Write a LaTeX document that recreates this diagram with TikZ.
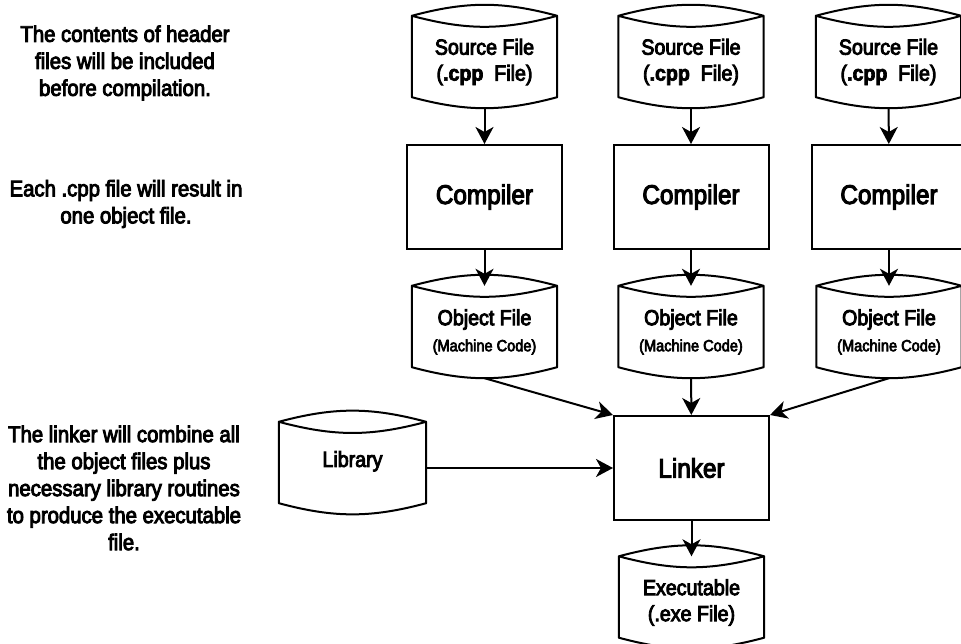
\documentclass[tikz,border=0pt]{standalone}
\usepackage{fontspec}
\setmainfont{Liberation Sans}[FakeStretch=0.9, FakeBold=4, BoldFont={Liberation Sans Bold}, BoldFeatures={FakeStretch=0.9, FakeBold=3}]
\usetikzlibrary{positioning,arrows.meta}

\begin{document}
\begin{tikzpicture}[x=1pt,y=-1pt,
  store/.style={minimum width=145pt, minimum height=92pt, inner sep=0pt, align=center,
    font=\fontsize{21.8}{26}\selectfont,
    append after command={\pgfextra{\let\drumnode\tikzlastnode
      \draw[line width=2pt, line join=round]
        (\drumnode.north west) to[bend left=15] (\drumnode.north east)
        to[bend left=15] (\drumnode.north west)
        -- ([yshift=11pt]\drumnode.south west) to[bend right=15] ([yshift=11pt]\drumnode.south east)
        -- (\drumnode.north east);}}},
  proc/.style={draw, line width=2pt, minimum width=155pt, minimum height=104pt, inner sep=0pt,
    font=\fontsize{27}{30}\selectfont},
  note/.style={align=center, inner sep=0pt, font=\fontsize{22.6}{27}\selectfont},
  arr/.style={line width=2pt, -{Stealth[length=17pt,width=18pt,inset=5pt]}}]
\useasboundingbox (0,0) rectangle (961,644);

% notes on the left
\node[note] (hdr) at (125,63) {The contents of header\\files will be included\\before compilation.};
\node[note] (obj) at (126,204) {Each .cpp file will result in\\one object file.};
\node[note] (lnk) at (124,488) {The linker will combine all\\the object files plus\\necessary library routines\\to produce the executable\\file.};

% source files
\node[store] (src1) at (484.5,62) {Source File\\(\textbf{.cpp}\ \ File)};
\node[store] (src2) at (691,62) {Source File\\(\textbf{.cpp}\ \ File)};
\node[store] (src3) at (888.5,62) {Source File\\(\textbf{.cpp}\ \ File)};

% compilers
\node[proc] (comp1) at (484.5,197) {Compiler};
\node[proc] (comp2) at (691,197) {Compiler};
\node[proc] (comp3) at (889,197) {Compiler};

% object files
\node[store] (obj1) at (484.5,332) {Object File\\{\fontsize{16.2}{22}\selectfont(Machine Code)}};
\node[store] (obj2) at (691,332) {Object File\\{\fontsize{16.2}{22}\selectfont(Machine Code)}};
\node[store] (obj3) at (889,332) {Object File\\{\fontsize{16.2}{22}\selectfont(Machine Code)}};

% linking
\node[proc] (link) at (691.5,468) {Linker};
\node[store, minimum width=147pt, text depth=18pt] (lib) at (352.5,468) {Library};
\node[store] (exe) at (691.5,602.5) {Executable\\(.exe File)};

\draw[arr] (src1) -- (comp1);
\draw[arr] (src2) -- (comp2);
\draw[arr] (src3) -- (comp3);
\draw[arr] (comp1) -- (obj1);
\draw[arr] (comp2) -- (obj2);
\draw[arr] (comp3) -- (obj3);
\draw[arr] (obj1.south) -- (link.north west);
\draw[arr] (obj2) -- (link);
\draw[arr] (obj3.south) -- (link.north east);
\draw[arr] (lib) -- (link);
\draw[arr] (link) -- (exe);
\end{tikzpicture}
\end{document}
